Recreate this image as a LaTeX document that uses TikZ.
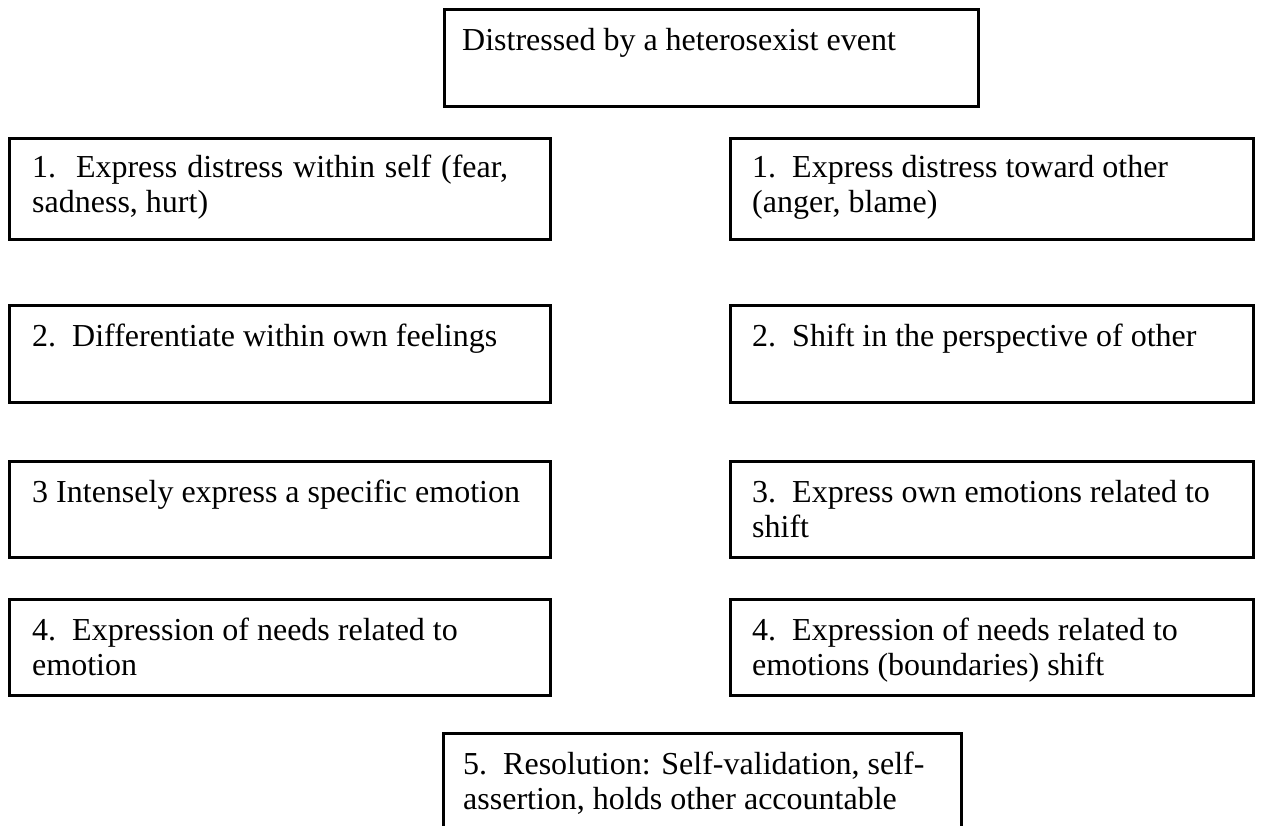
\documentclass[tikz,border=0pt]{standalone}
\usepackage{fontspec}
\setmainfont{Liberation Serif}
\usetikzlibrary{calc}
\begin{document}
\begin{tikzpicture}[x=1pt,y=-1pt,
  frame/.style={draw=black, line width=2.5pt, anchor=north west, inner sep=0pt},
  label/.style={anchor=north west, inner sep=0pt, align=left, font=\fontsize{32}{35}\selectfont}]
\useasboundingbox (0,0) rectangle (1274,825);
% boxes
\node[frame, minimum width=534, minimum height=97] (top) at (443,8) {};
\node[frame, minimum width=541, minimum height=101] (l1) at (8,137) {};
\node[frame, minimum width=523, minimum height=101] (r1) at (729,137) {};
\node[frame, minimum width=541, minimum height=97] (l2) at (8,304) {};
\node[frame, minimum width=523, minimum height=97] (r2) at (729,304) {};
\node[frame, minimum width=541, minimum height=96] (l3) at (8,460) {};
\node[frame, minimum width=523, minimum height=96] (r3) at (729,460) {};
\node[frame, minimum width=541, minimum height=96] (l4) at (8,598) {};
\node[frame, minimum width=523, minimum height=96] (r4) at (729,598) {};
\node[frame, minimum width=518, minimum height=100] (b5) at (442,732) {};
% texts
\node[label] (ttop) at ($(top.north west)+(19,20)$) {Distressed by a heterosexist event};
\node[label] (tl1) at ($(l1.north west)+(24,18)$) {\makebox[476pt][s]{1.\ \ Express distress within self (fear,}\\sadness, hurt)};
\node[label] (tr1) at ($(r1.north west)+(23,18)$) {1.\ \ Express distress toward other\\(anger, blame)};
\node[label] (tl2) at ($(l2.north west)+(24,20)$) {2.\ \ Differentiate within own feelings};
\node[label] (tr2) at ($(r2.north west)+(23,20)$) {2.\ \ Shift in the perspective of other};
\node[label] (tl3) at ($(l3.north west)+(24,20)$) {3 Intensely express a specific emotion};
\node[label] (tr3) at ($(r3.north west)+(23,20)$) {3.\ \ Express own emotions related to\\shift};
\node[label] (tl4) at ($(l4.north west)+(24,20)$) {4.\ \ Expression of needs related to\\emotion};
\node[label] (tr4) at ($(r4.north west)+(23,20)$) {4.\ \ Expression of needs related to\\emotions (boundaries) shift};
\node[label] (t5) at ($(b5.north west)+(21,20)$) {5.\ \ Resolution: Self-validation, self-\\assertion, holds other accountable};
\end{tikzpicture}
\end{document}
